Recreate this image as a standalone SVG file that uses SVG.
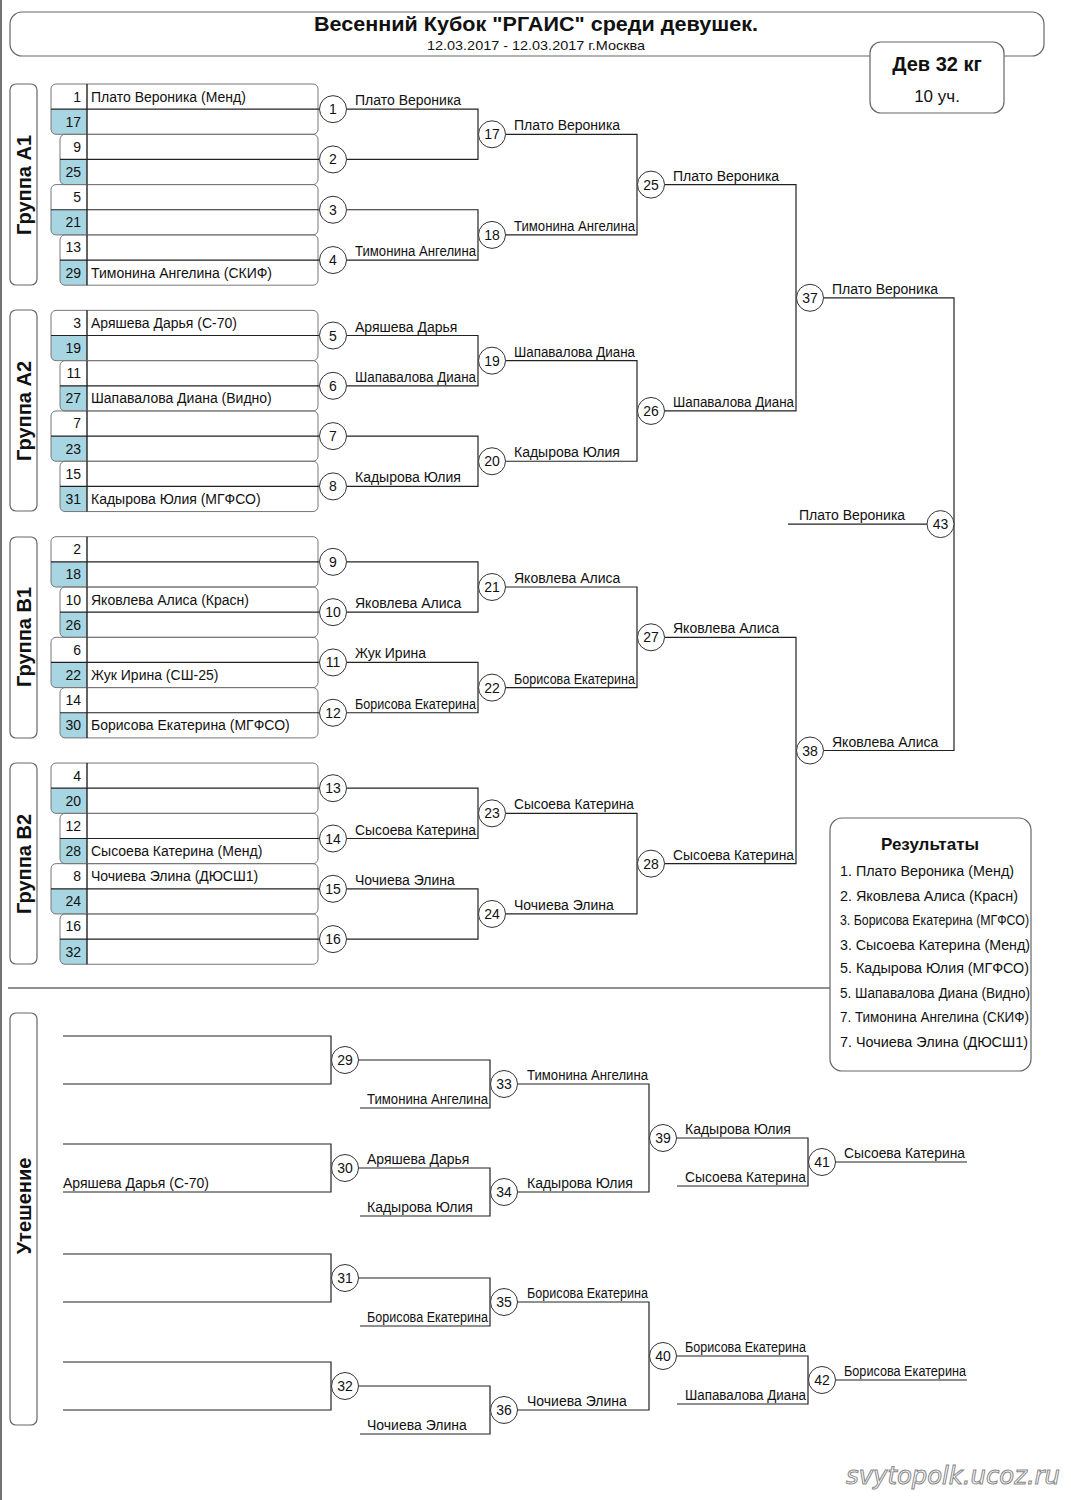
<svg xmlns="http://www.w3.org/2000/svg" width="1071" height="1500" viewBox="0 0 1071 1500">
<style>
.bg{fill:#fff}
.ln{stroke:#222;stroke-width:1.2;fill:none}
.box{fill:none;stroke:#777;stroke-width:1}
.frame{fill:#fff;stroke:#666;stroke-width:1.2}
.div{stroke:#222;stroke-width:1.4}
.blue{fill:#a8d5e2}
.c{fill:#fff;stroke:#333;stroke-width:1}
.t{font-family:"Liberation Sans",Arial,sans-serif;font-size:14px;fill:#111}
.num{font-family:"Liberation Sans",Arial,sans-serif;font-size:14px;fill:#111;text-anchor:end}
.cn{font-family:"Liberation Sans",Arial,sans-serif;font-size:14px;fill:#111;text-anchor:middle}
.grp{font-family:"Liberation Sans",Arial,sans-serif;font-size:20px;font-weight:bold;fill:#111;text-anchor:middle}
</style>
<rect class="bg" x="0" y="0" width="1071" height="1500"/>
<line x1="1" y1="0" x2="1" y2="1500" stroke="#444" stroke-width="1.5"/>

<g id="header">
<rect class="frame" x="10" y="12" width="1034" height="44" rx="12"/>
<text x="536" y="31" font-family="Liberation Sans,Arial,sans-serif" font-size="20" font-weight="bold" text-anchor="middle" textLength="444" lengthAdjust="spacingAndGlyphs" fill="#111">Весенний Кубок "РГАИС" среди девушек.</text>
<text x="536" y="50" font-family="Liberation Sans,Arial,sans-serif" font-size="13" text-anchor="middle" textLength="218" lengthAdjust="spacingAndGlyphs" fill="#111">12.03.2017 - 12.03.2017 г.Москва</text>
</g>
<g id="weight">
<rect class="frame" x="870" y="42" width="134" height="71" rx="11"/>
<text x="937" y="71" font-family="Liberation Sans,Arial,sans-serif" font-size="20" font-weight="bold" text-anchor="middle" fill="#111">Дев 32 кг</text>
<text x="937" y="102" font-family="Liberation Sans,Arial,sans-serif" font-size="17" text-anchor="middle" fill="#111">10 уч.</text>
</g>

<g id="group-labels">
<g id="grpA1"><rect class="frame" x="10" y="84" width="27" height="201" rx="6"/><text class="grp" transform="translate(31,185) rotate(-90)">Группа А1</text></g>
<g id="grpA2"><rect class="frame" x="10" y="310" width="27" height="201" rx="6"/><text class="grp" transform="translate(31,411) rotate(-90)">Группа А2</text></g>
<g id="grpB1"><rect class="frame" x="10" y="537" width="27" height="201" rx="6"/><text class="grp" transform="translate(31,637) rotate(-90)">Группа В1</text></g>
<g id="grpB2"><rect class="frame" x="10" y="763" width="27" height="201" rx="6"/><text class="grp" transform="translate(31,864) rotate(-90)">Группа В2</text></g>
<g id="grpCons"><rect class="frame" x="10" y="1013" width="27" height="412" rx="6"/><text class="grp" transform="translate(31,1206) rotate(-90)">Утешение</text></g>
</g>

<g id="seeds">
<g id="pair1"><path class="blue" d="M51,109.15H87V134.3H56Q51,134.3 51,129.3Z"/><rect class="box" x="51" y="84" width="267" height="50.3" rx="5"/><line class="div" x1="87" y1="84" x2="87" y2="134.3"/><text class="num" x="81" y="101.5">1</text><text class="num" x="81" y="126.65">17</text><text class="t" x="91" y="101.5">Плато Вероника (Менд)</text></g>
<g id="pair2"><path class="blue" d="M60,159.45H87V184.6H65Q60,184.6 60,179.6Z"/><rect class="box" x="60" y="134.3" width="258" height="50.3" rx="5"/><line class="div" x1="87" y1="134.3" x2="87" y2="184.6"/><text class="num" x="81" y="151.8">9</text><text class="num" x="81" y="176.95">25</text></g>
<g id="pair3"><path class="blue" d="M51,209.75H87V234.9H56Q51,234.9 51,229.9Z"/><rect class="box" x="51" y="184.6" width="267" height="50.3" rx="5"/><line class="div" x1="87" y1="184.6" x2="87" y2="234.9"/><text class="num" x="81" y="202.1">5</text><text class="num" x="81" y="227.25">21</text></g>
<g id="pair4"><path class="blue" d="M60,260.05H87V285.2H65Q60,285.2 60,280.2Z"/><rect class="box" x="60" y="234.9" width="258" height="50.3" rx="5"/><line class="div" x1="87" y1="234.9" x2="87" y2="285.2"/><text class="num" x="81" y="252.4">13</text><text class="num" x="81" y="277.55">29</text><text class="t" x="91" y="277.55">Тимонина Ангелина (СКИФ)</text></g>

<g id="pair5"><path class="blue" d="M51,335.5H87V360.65H56Q51,360.65 51,355.65Z"/><rect class="box" x="51" y="310.35" width="267" height="50.3" rx="5"/><line class="div" x1="87" y1="310.35" x2="87" y2="360.65"/><text class="num" x="81" y="327.85">3</text><text class="num" x="81" y="353">19</text><text class="t" x="91" y="327.85">Аряшева Дарья (С-70)</text></g>
<g id="pair6"><path class="blue" d="M60,385.8H87V410.95H65Q60,410.95 60,405.95Z"/><rect class="box" x="60" y="360.65" width="258" height="50.3" rx="5"/><line class="div" x1="87" y1="360.65" x2="87" y2="410.95"/><text class="num" x="81" y="378.15">11</text><text class="num" x="81" y="403.3">27</text><text class="t" x="91" y="403.3">Шапавалова Диана (Видно)</text></g>
<g id="pair7"><path class="blue" d="M51,436.1H87V461.25H56Q51,461.25 51,456.25Z"/><rect class="box" x="51" y="410.95" width="267" height="50.3" rx="5"/><line class="div" x1="87" y1="410.95" x2="87" y2="461.25"/><text class="num" x="81" y="428.45">7</text><text class="num" x="81" y="453.6">23</text></g>
<g id="pair8"><path class="blue" d="M60,486.4H87V511.55H65Q60,511.55 60,506.55Z"/><rect class="box" x="60" y="461.25" width="258" height="50.3" rx="5"/><line class="div" x1="87" y1="461.25" x2="87" y2="511.55"/><text class="num" x="81" y="478.75">15</text><text class="num" x="81" y="503.9">31</text><text class="t" x="91" y="503.9">Кадырова Юлия (МГФСО)</text></g>

<g id="pair9"><path class="blue" d="M51,561.85H87V587H56Q51,587 51,582Z"/><rect class="box" x="51" y="536.7" width="267" height="50.3" rx="5"/><line class="div" x1="87" y1="536.7" x2="87" y2="587"/><text class="num" x="81" y="554.2">2</text><text class="num" x="81" y="579.35">18</text></g>
<g id="pair10"><path class="blue" d="M60,612.15H87V637.3H65Q60,637.3 60,632.3Z"/><rect class="box" x="60" y="587" width="258" height="50.3" rx="5"/><line class="div" x1="87" y1="587" x2="87" y2="637.3"/><text class="num" x="81" y="604.5">10</text><text class="num" x="81" y="629.65">26</text><text class="t" x="91" y="604.5">Яковлева Алиса (Красн)</text></g>
<g id="pair11"><path class="blue" d="M51,662.45H87V687.6H56Q51,687.6 51,682.6Z"/><rect class="box" x="51" y="637.3" width="267" height="50.3" rx="5"/><line class="div" x1="87" y1="637.3" x2="87" y2="687.6"/><text class="num" x="81" y="654.8">6</text><text class="num" x="81" y="679.95">22</text><text class="t" x="91" y="679.95">Жук Ирина (СШ-25)</text></g>
<g id="pair12"><path class="blue" d="M60,712.75H87V737.9H65Q60,737.9 60,732.9Z"/><rect class="box" x="60" y="687.6" width="258" height="50.3" rx="5"/><line class="div" x1="87" y1="687.6" x2="87" y2="737.9"/><text class="num" x="81" y="705.1">14</text><text class="num" x="81" y="730.25">30</text><text class="t" x="91" y="730.25">Борисова Екатерина (МГФСО)</text></g>

<g id="pair13"><path class="blue" d="M51,788.2H87V813.35H56Q51,813.35 51,808.35Z"/><rect class="box" x="51" y="763.05" width="267" height="50.3" rx="5"/><line class="div" x1="87" y1="763.05" x2="87" y2="813.35"/><text class="num" x="81" y="780.55">4</text><text class="num" x="81" y="805.7">20</text></g>
<g id="pair14"><path class="blue" d="M60,838.5H87V863.65H65Q60,863.65 60,858.65Z"/><rect class="box" x="60" y="813.35" width="258" height="50.3" rx="5"/><line class="div" x1="87" y1="813.35" x2="87" y2="863.65"/><text class="num" x="81" y="830.85">12</text><text class="num" x="81" y="856">28</text><text class="t" x="91" y="856">Сысоева Катерина (Менд)</text></g>
<g id="pair15"><path class="blue" d="M51,888.8H87V913.95H56Q51,913.95 51,908.95Z"/><rect class="box" x="51" y="863.65" width="267" height="50.3" rx="5"/><line class="div" x1="87" y1="863.65" x2="87" y2="913.95"/><text class="num" x="81" y="881.15">8</text><text class="num" x="81" y="906.3">24</text><text class="t" x="91" y="881.15">Чочиева Элина (ДЮСШ1)</text></g>
<g id="pair16"><path class="blue" d="M60,939.1H87V964.25H65Q60,964.25 60,959.25Z"/><rect class="box" x="60" y="913.95" width="258" height="50.3" rx="5"/><line class="div" x1="87" y1="913.95" x2="87" y2="964.25"/><text class="num" x="81" y="931.45">16</text><text class="num" x="81" y="956.6">32</text></g>
</g>

<g id="connectors" class="ln">
<path d="M51,109.15H319.5M60,159.45H319.5M51,209.75H319.5M60,260.05H319.5M51,335.5H319.5M60,385.8H319.5M51,436.1H319.5M60,486.4H319.5M51,561.85H319.5M60,612.15H319.5M51,662.45H319.5M60,712.75H319.5M51,788.2H319.5M60,838.5H319.5M51,888.8H319.5M60,939.1H319.5"/>
<path d="M346.5,109.15H478V159.45H346.5M346.5,209.75H478V260.05H346.5M346.5,335.5H478V385.8H346.5M346.5,436.1H478V486.4H346.5M346.5,561.85H478V612.15H346.5M346.5,662.45H478V712.75H346.5M346.5,788.2H478V838.5H346.5M346.5,888.8H478V939.1H346.5"/>
<path d="M505.5,134.3H637V234.9H505.5M505.5,360.65H637V461.25H505.5M505.5,587H637V687.6H505.5M505.5,813.35H637V913.95H505.5"/>
<path d="M664.5,184.6H796V410.95H664.5M664.5,637.3H796V863.65H664.5"/>
<path d="M823.5,297.8H954V750.5H823.5"/>
<path d="M788,524.1H927"/>
<path d="M8,988H830"/>
<path d="M63,1036H331V1084H63M63,1144H331V1192H63M358.5,1060H490V1108H360M358.5,1168H490V1216H360M517.5,1084H649V1192H517.5M676.5,1138H808V1186H677M835.5,1162H967"/>
<path d="M63,1254H331V1302H63M63,1362H331V1410H63M358.5,1278H490V1326H360M358.5,1386H490V1434H360M517.5,1302H649V1410H517.5M676.5,1356H808V1404H677M835.5,1380H967"/>
</g>

<g id="labels" class="t">
<text x="355" y="105.15">Плато Вероника</text>
<text x="355" y="256.05" textLength="121" lengthAdjust="spacingAndGlyphs">Тимонина Ангелина</text>
<text x="355" y="331.5">Аряшева Дарья</text>
<text x="355" y="381.8" textLength="121" lengthAdjust="spacingAndGlyphs">Шапавалова Диана</text>
<text x="355" y="482.4">Кадырова Юлия</text>
<text x="355" y="608.15">Яковлева Алиса</text>
<text x="355" y="658.45">Жук Ирина</text>
<text x="355" y="708.75" textLength="121" lengthAdjust="spacingAndGlyphs">Борисова Екатерина</text>
<text x="355" y="834.5" textLength="121" lengthAdjust="spacingAndGlyphs">Сысоева Катерина</text>
<text x="355" y="884.8">Чочиева Элина</text>
<text x="514" y="130.3">Плато Вероника</text>
<text x="514" y="230.9" textLength="121" lengthAdjust="spacingAndGlyphs">Тимонина Ангелина</text>
<text x="514" y="356.65" textLength="121" lengthAdjust="spacingAndGlyphs">Шапавалова Диана</text>
<text x="514" y="457.25">Кадырова Юлия</text>
<text x="514" y="583">Яковлева Алиса</text>
<text x="514" y="683.6" textLength="121" lengthAdjust="spacingAndGlyphs">Борисова Екатерина</text>
<text x="514" y="809.35" textLength="120" lengthAdjust="spacingAndGlyphs">Сысоева Катерина</text>
<text x="514" y="909.95">Чочиева Элина</text>
<text x="673" y="180.6">Плато Вероника</text>
<text x="673" y="406.95" textLength="121" lengthAdjust="spacingAndGlyphs">Шапавалова Диана</text>
<text x="673" y="633.3">Яковлева Алиса</text>
<text x="673" y="859.65" textLength="121" lengthAdjust="spacingAndGlyphs">Сысоева Катерина</text>
<text x="832" y="293.8">Плато Вероника</text>
<text x="832" y="746.5">Яковлева Алиса</text>
<text x="799" y="520.1">Плато Вероника</text>
<text x="63" y="1188">Аряшева Дарья (С-70)</text>
<text x="367" y="1104" textLength="121" lengthAdjust="spacingAndGlyphs">Тимонина Ангелина</text>
<text x="367" y="1164">Аряшева Дарья</text>
<text x="367" y="1212">Кадырова Юлия</text>
<text x="527" y="1080" textLength="121" lengthAdjust="spacingAndGlyphs">Тимонина Ангелина</text>
<text x="527" y="1188">Кадырова Юлия</text>
<text x="685" y="1134">Кадырова Юлия</text>
<text x="685" y="1182" textLength="121" lengthAdjust="spacingAndGlyphs">Сысоева Катерина</text>
<text x="844" y="1158" textLength="121" lengthAdjust="spacingAndGlyphs">Сысоева Катерина</text>
<text x="367" y="1322" textLength="121" lengthAdjust="spacingAndGlyphs">Борисова Екатерина</text>
<text x="367" y="1430">Чочиева Элина</text>
<text x="527" y="1298" textLength="121" lengthAdjust="spacingAndGlyphs">Борисова Екатерина</text>
<text x="527" y="1406">Чочиева Элина</text>
<text x="685" y="1352" textLength="121" lengthAdjust="spacingAndGlyphs">Борисова Екатерина</text>
<text x="685" y="1400" textLength="121" lengthAdjust="spacingAndGlyphs">Шапавалова Диана</text>
<text x="844" y="1376" textLength="122" lengthAdjust="spacingAndGlyphs">Борисова Екатерина</text>
</g>

<g id="matches">
<g id="m1"><circle class="c" cx="333" cy="109.15" r="13.5"/><text class="cn" x="333" y="114.15">1</text></g>
<g id="m2"><circle class="c" cx="333" cy="159.45" r="13.5"/><text class="cn" x="333" y="164.45">2</text></g>
<g id="m3"><circle class="c" cx="333" cy="209.75" r="13.5"/><text class="cn" x="333" y="214.75">3</text></g>
<g id="m4"><circle class="c" cx="333" cy="260.05" r="13.5"/><text class="cn" x="333" y="265.05">4</text></g>
<g id="m5"><circle class="c" cx="333" cy="335.5" r="13.5"/><text class="cn" x="333" y="340.5">5</text></g>
<g id="m6"><circle class="c" cx="333" cy="385.8" r="13.5"/><text class="cn" x="333" y="390.8">6</text></g>
<g id="m7"><circle class="c" cx="333" cy="436.1" r="13.5"/><text class="cn" x="333" y="441.1">7</text></g>
<g id="m8"><circle class="c" cx="333" cy="486.4" r="13.5"/><text class="cn" x="333" y="491.4">8</text></g>
<g id="m9"><circle class="c" cx="333" cy="561.85" r="13.5"/><text class="cn" x="333" y="566.85">9</text></g>
<g id="m10"><circle class="c" cx="333" cy="612.15" r="13.5"/><text class="cn" x="333" y="617.15">10</text></g>
<g id="m11"><circle class="c" cx="333" cy="662.45" r="13.5"/><text class="cn" x="333" y="667.45">11</text></g>
<g id="m12"><circle class="c" cx="333" cy="712.75" r="13.5"/><text class="cn" x="333" y="717.75">12</text></g>
<g id="m13"><circle class="c" cx="333" cy="788.2" r="13.5"/><text class="cn" x="333" y="793.2">13</text></g>
<g id="m14"><circle class="c" cx="333" cy="838.5" r="13.5"/><text class="cn" x="333" y="843.5">14</text></g>
<g id="m15"><circle class="c" cx="333" cy="888.8" r="13.5"/><text class="cn" x="333" y="893.8">15</text></g>
<g id="m16"><circle class="c" cx="333" cy="939.1" r="13.5"/><text class="cn" x="333" y="944.1">16</text></g>
<g id="m17"><circle class="c" cx="492" cy="134.3" r="13.5"/><text class="cn" x="492" y="139.3">17</text></g>
<g id="m18"><circle class="c" cx="492" cy="234.9" r="13.5"/><text class="cn" x="492" y="239.9">18</text></g>
<g id="m19"><circle class="c" cx="492" cy="360.65" r="13.5"/><text class="cn" x="492" y="365.65">19</text></g>
<g id="m20"><circle class="c" cx="492" cy="461.25" r="13.5"/><text class="cn" x="492" y="466.25">20</text></g>
<g id="m21"><circle class="c" cx="492" cy="587" r="13.5"/><text class="cn" x="492" y="592">21</text></g>
<g id="m22"><circle class="c" cx="492" cy="687.6" r="13.5"/><text class="cn" x="492" y="692.6">22</text></g>
<g id="m23"><circle class="c" cx="492" cy="813.35" r="13.5"/><text class="cn" x="492" y="818.35">23</text></g>
<g id="m24"><circle class="c" cx="492" cy="913.95" r="13.5"/><text class="cn" x="492" y="918.95">24</text></g>
<g id="m25"><circle class="c" cx="651" cy="184.6" r="13.5"/><text class="cn" x="651" y="189.6">25</text></g>
<g id="m26"><circle class="c" cx="651" cy="410.95" r="13.5"/><text class="cn" x="651" y="415.95">26</text></g>
<g id="m27"><circle class="c" cx="651" cy="637.3" r="13.5"/><text class="cn" x="651" y="642.3">27</text></g>
<g id="m28"><circle class="c" cx="651" cy="863.65" r="13.5"/><text class="cn" x="651" y="868.65">28</text></g>
<g id="m37"><circle class="c" cx="810" cy="297.8" r="13.5"/><text class="cn" x="810" y="302.8">37</text></g>
<g id="m38"><circle class="c" cx="810" cy="750.5" r="13.5"/><text class="cn" x="810" y="755.5">38</text></g>
<g id="m43"><circle class="c" cx="940.5" cy="524.1" r="13.5"/><text class="cn" x="940.5" y="529.1">43</text></g>
<g id="m29"><circle class="c" cx="345" cy="1060" r="13.5"/><text class="cn" x="345" y="1065">29</text></g>
<g id="m30"><circle class="c" cx="345" cy="1168" r="13.5"/><text class="cn" x="345" y="1173">30</text></g>
<g id="m33"><circle class="c" cx="504" cy="1084" r="13.5"/><text class="cn" x="504" y="1089">33</text></g>
<g id="m34"><circle class="c" cx="504" cy="1192" r="13.5"/><text class="cn" x="504" y="1197">34</text></g>
<g id="m39"><circle class="c" cx="663" cy="1138" r="13.5"/><text class="cn" x="663" y="1143">39</text></g>
<g id="m41"><circle class="c" cx="822" cy="1162" r="13.5"/><text class="cn" x="822" y="1167">41</text></g>
<g id="m31"><circle class="c" cx="345" cy="1278" r="13.5"/><text class="cn" x="345" y="1283">31</text></g>
<g id="m32"><circle class="c" cx="345" cy="1386" r="13.5"/><text class="cn" x="345" y="1391">32</text></g>
<g id="m35"><circle class="c" cx="504" cy="1302" r="13.5"/><text class="cn" x="504" y="1307">35</text></g>
<g id="m36"><circle class="c" cx="504" cy="1410" r="13.5"/><text class="cn" x="504" y="1415">36</text></g>
<g id="m40"><circle class="c" cx="663" cy="1356" r="13.5"/><text class="cn" x="663" y="1361">40</text></g>
<g id="m42"><circle class="c" cx="822" cy="1380" r="13.5"/><text class="cn" x="822" y="1385">42</text></g>
</g>

<g id="results">
<rect class="frame" x="830" y="818" width="201" height="253" rx="12"/>
<text x="930" y="850" font-family="Liberation Sans,Arial,sans-serif" font-size="17" font-weight="bold" text-anchor="middle" fill="#111">Результаты</text>
<g class="t">
<text x="840" y="876" textLength="174" lengthAdjust="spacingAndGlyphs">1. Плато Вероника (Менд)</text>
<text x="840" y="901" textLength="178" lengthAdjust="spacingAndGlyphs">2. Яковлева Алиса (Красн)</text>
<text x="840" y="925" textLength="189" lengthAdjust="spacingAndGlyphs">3. Борисова Екатерина (МГФСО)</text>
<text x="840" y="950" textLength="190" lengthAdjust="spacingAndGlyphs">3. Сысоева Катерина (Менд)</text>
<text x="840" y="973" textLength="189" lengthAdjust="spacingAndGlyphs">5. Кадырова Юлия (МГФСО)</text>
<text x="840" y="998" textLength="190" lengthAdjust="spacingAndGlyphs">5. Шапавалова Диана (Видно)</text>
<text x="840" y="1022" textLength="189" lengthAdjust="spacingAndGlyphs">7. Тимонина Ангелина (СКИФ)</text>
<text x="840" y="1047" textLength="188" lengthAdjust="spacingAndGlyphs">7. Чочиева Элина (ДЮСШ1)</text>
</g>
</g>

<text id="watermark" x="846" y="1484" font-family="DejaVu Sans,sans-serif" font-size="24" font-style="italic" textLength="214" lengthAdjust="spacingAndGlyphs" fill="#fff" stroke="#888" stroke-width="1">svytopolk.ucoz.ru</text>
</svg>
